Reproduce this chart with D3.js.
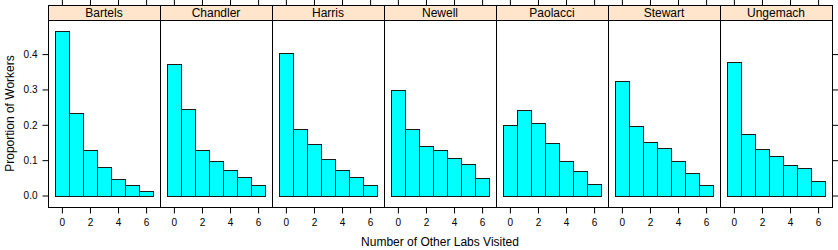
<!DOCTYPE html>
<html><head><meta charset="utf-8">
<script src="https://cdn.jsdelivr.net/npm/d3@7"></script>
<style>body{margin:0;background:#fff}svg{display:block}text{font-family:"Liberation Sans",Arial,sans-serif;fill:#000}</style>
</head><body><svg id="c" width="838" height="250"></svg>
<script>
const labs = ["Bartels","Chandler","Harris","Newell","Paolacci","Stewart","Ungemach"];
const visits = [0,1,2,3,4,5,6];
const bartels  = [0.464,0.233,0.130,0.080,0.047,0.030,0.013];
const chandler = [0.371,0.245,0.129,0.098,0.071,0.053,0.031];
const harris   = [0.402,0.189,0.146,0.104,0.072,0.053,0.031];
const newell   = [0.298,0.187,0.140,0.129,0.106,0.089,0.050];
const paolacci = [0.199,0.243,0.204,0.148,0.097,0.068,0.032];
const stewart  = [0.323,0.196,0.152,0.134,0.098,0.064,0.030];
const ungemach = [0.377,0.173,0.132,0.111,0.086,0.077,0.040];
const series = [bartels,chandler,harris,newell,paolacci,stewart,ungemach];
const xTicks = [0,2,4,6];
const yTicks = [0,0.1,0.2,0.3,0.4];
const xTitle = "Number of Other Labs Visited";
const yTitle = "Proportion of Workers";

const svg = d3.select("#c");
const left = 48, panelW = 112, stripTop = 5, stripBot = 20, bottom = 207;
const ymax = d3.max(series.flat());
const pad = 0.07*ymax;
const y = d3.scaleLinear().domain([-pad, ymax+pad]).range([bottom, stripBot]);
const xpad = 0.07*7;
labs.forEach((lab,i)=>{
  const x0 = left + i*panelW;
  const x = d3.scaleLinear().domain([-0.5-xpad, 6.5+xpad]).range([x0, x0+panelW]);
  const g = svg.append("g");
  g.append("rect").attr("x",x0+0.5).attr("y",stripTop+0.5).attr("width",panelW).attr("height",stripBot-stripTop)
    .attr("fill","#ffe5cc").attr("stroke","#000");
  g.append("text").attr("x",x0+panelW/2).attr("y",(stripTop+stripBot)/2+4.5).attr("text-anchor","middle")
    .attr("font-size","12px").text(lab);
  g.selectAll("rect.bar").data(series[i]).join("rect").attr("class","bar")
    .attr("x",(d,j)=>Math.round(x(visits[j]-0.5))+0.5)
    .attr("width",(d,j)=>Math.round(x(visits[j]+0.5))-Math.round(x(visits[j]-0.5)))
    .attr("y",d=>Math.round(y(d))+0.5)
    .attr("height",d=>Math.round(y(0))-Math.round(y(d)))
    .attr("fill","#00ffff").attr("stroke","#1a1a1a").attr("stroke-width",1);
  g.append("rect").attr("x",x0+0.5).attr("y",stripBot+0.5).attr("width",panelW).attr("height",bottom-stripBot)
    .attr("fill","none").attr("stroke","#000");
  const ab = g.append("g").attr("transform",`translate(0,${bottom+0.5})`)
    .call(d3.axisBottom(x).tickValues(xTicks).tickSize(6).tickPadding(5).tickFormat(d3.format("d")));
  ab.select(".domain").remove();
  ab.selectAll("text").attr("font-size","10px").attr("font-family","Liberation Sans, Arial, sans-serif");
  const at = g.append("g").attr("transform",`translate(0,${stripTop+0.5})`)
    .call(d3.axisTop(x).tickValues(xTicks).tickSize(6).tickFormat(""));
  at.select(".domain").remove();
});
const al = svg.append("g").attr("transform",`translate(${left+0.5},0)`)
  .call(d3.axisLeft(y).tickValues(yTicks).tickSize(6).tickPadding(5).tickFormat(d3.format(".1f")));
al.select(".domain").remove();
al.selectAll("text").attr("font-size","10px").attr("font-family","Liberation Sans, Arial, sans-serif");
const ar = svg.append("g").attr("transform",`translate(${left+7*panelW+0.5},0)`)
  .call(d3.axisRight(y).tickValues(yTicks).tickSize(6).tickFormat(""));
ar.select(".domain").remove();
svg.append("text").attr("x",left+7*panelW/2).attr("y",246).attr("text-anchor","middle").attr("font-size","12px").text(xTitle);
svg.append("text").attr("transform",`translate(14,${(stripBot+bottom)/2}) rotate(-90)`).attr("text-anchor","middle").attr("font-size","12px").text(yTitle);
</script></body></html>
